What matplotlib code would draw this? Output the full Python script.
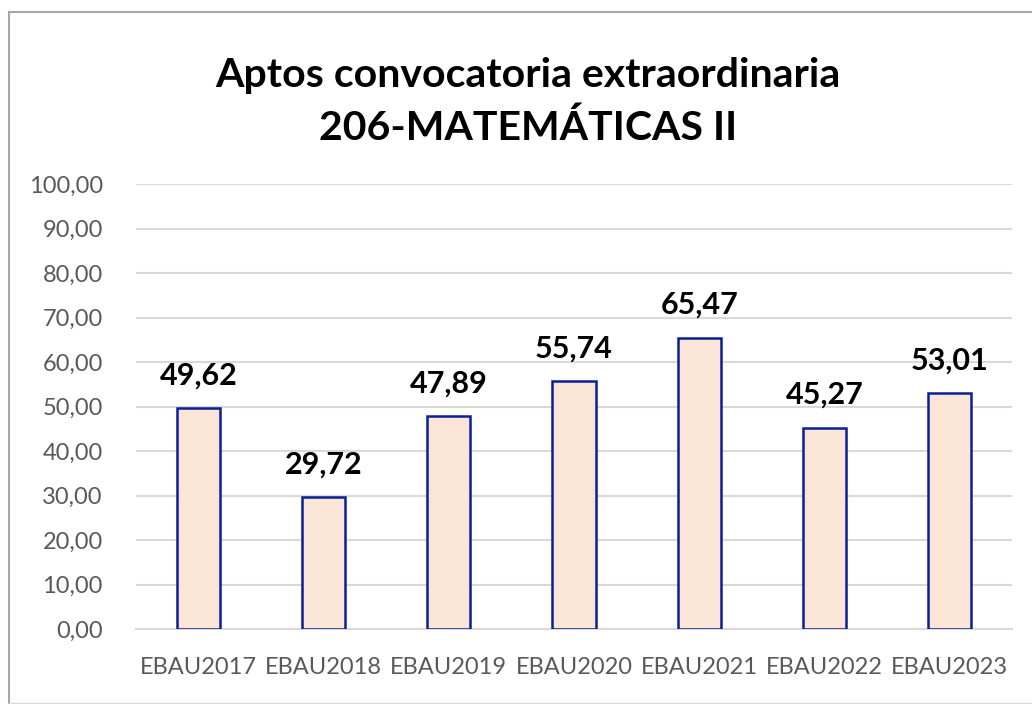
import matplotlib
matplotlib.use("Agg")
import matplotlib.pyplot as plt
from matplotlib.lines import Line2D

categories = ["EBAU2017", "EBAU2018", "EBAU2019", "EBAU2020", "EBAU2021", "EBAU2022", "EBAU2023"]
values = [49.62, 29.72, 47.89, 55.74, 65.47, 45.27, 53.01]
yticks = [0, 10, 20, 30, 40, 50, 60, 70, 80, 90, 100]

plt.rcParams['font.family'] = ['Lato', 'DejaVu Sans']

W, H = 1032, 704
fig = plt.figure(figsize=(W / 100, H / 100), dpi=100)
fig.patch.set_facecolor('white')

# outer frame lines (left, top, bottom)
fig.add_artist(Line2D([9 / W, 9 / W], [0, 1 - 12 / H], transform=fig.transFigure, color='#A6A6A6', lw=1.5))
fig.add_artist(Line2D([9 / W, 1], [1 - 12 / H, 1 - 12 / H], transform=fig.transFigure, color='#A6A6A6', lw=1.5))
fig.add_artist(Line2D([9 / W, 1], [1 - 703 / H, 1 - 703 / H], transform=fig.transFigure, color='#D9D9D9', lw=1))

left, right = 136, 1012
top, bottom = 184, 629
ax = fig.add_axes([left / W, 1 - bottom / H, (right - left) / W, (bottom - top) / H])

x = list(range(len(categories)))
ax.bar(x, values, width=0.345, color='#FBE5D6', edgecolor='#0A1E96', linewidth=1.8, zorder=3)

ax.set_xlim(-0.5, len(categories) - 0.5)
ax.set_ylim(0, 100)
ax.set_yticks(yticks)
ax.set_yticklabels([f"{v:.2f}".replace('.', ',') for v in yticks], fontsize=17, color='#595959')
ax.set_xticks(x)
ax.set_xticklabels(categories, fontsize=17, color='#595959')
ax.tick_params(axis='both', length=0)
ax.tick_params(axis='y', pad=24)
ax.tick_params(axis='x', pad=20)
ax.grid(axis='y', color='#D9D9D9', linewidth=1.5, zorder=0)
for s in ['top', 'right', 'left']:
    ax.spines[s].set_visible(False)
ax.spines['bottom'].set_color('#D9D9D9')
ax.spines['bottom'].set_linewidth(1.5)

for xi, v in zip(x, values):
    ax.annotate(f"{v:.2f}".replace('.', ','), (xi, v), xytext=(0, 17), textcoords='offset points',
                ha='center', va='baseline', fontsize=22, fontweight='bold', color='black')

fig.text(528 / W, 1 - 75 / H, "Aptos convocatoria extraordinaria", ha='center', va='center',
         fontsize=29.5, fontweight='bold', color='black')
fig.text(528 / W, 1 - 128 / H, "206-MATEMÁTICAS II", ha='center', va='center',
         fontsize=29.5, fontweight='bold', color='black')

fig.savefig("out.png", dpi=100)
